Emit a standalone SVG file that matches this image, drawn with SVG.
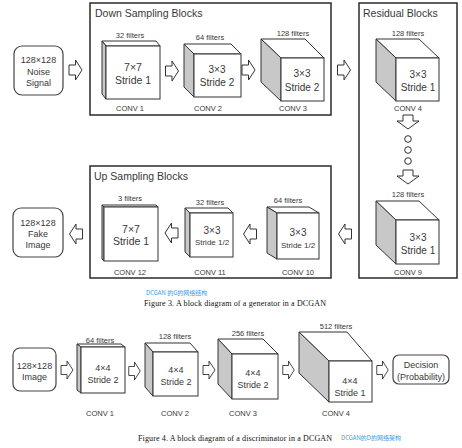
<svg xmlns="http://www.w3.org/2000/svg" width="462" height="448" viewBox="0 0 462 448">
<defs>
<style>
.bg{fill:#ffffff}
.blk{fill:none;stroke:#2a2a2a;stroke-width:1.5}
.io{fill:#ffffff;stroke:#444;stroke-width:1.2}
.fr{fill:#ffffff;stroke:#333;stroke-width:1}
.sd{fill:#c8c8c8;stroke:#333;stroke-width:1}
.tp{fill:#ffffff;stroke:#333;stroke-width:1}
.arr{fill:#ffffff;stroke:#333;stroke-width:1}
text{font-family:"Liberation Sans","Noto Sans",Arial,sans-serif;fill:#383838}
.ttl{font-size:10.5px}
.io-t{font-size:9px;text-anchor:middle}
.fl{font-size:7.5px;text-anchor:middle}
.cv{font-size:7.5px;text-anchor:middle}
.st{font-size:10px;text-anchor:middle}
.lg{font-size:10.5px;text-anchor:middle}
.sm{font-size:8px;text-anchor:middle}
.ds{font-size:9px;text-anchor:middle}
.cap{font-family:"Liberation Serif","Times New Roman",serif;font-size:8px;fill:#111;text-anchor:middle}
.cn{font-family:"Noto Sans CJK SC","Liberation Sans",sans-serif;font-size:6px;fill:#3d9be0}
</style>
<path id="ra" d="M-6.5,-5 H0 V-10 L6.5,0 L0,10 V5 H-6.5 Z"/>
<path id="da" d="M-5,-7 H5 V-1 H11 L0,7 L-11,-1 H-5 Z"/>
</defs>
<rect class="bg" x="0" y="0" width="462" height="448"/>

<!-- Generator -->
<g id="down-block">
<rect class="blk" x="90" y="3" width="241" height="112"/>
<text class="ttl" x="95" y="17">Down Sampling Blocks</text>
</g>
<g id="residual-block">
<rect class="blk" x="359" y="3" width="98" height="275"/>
<text class="ttl" x="363" y="17">Residual Blocks</text>
</g>
<g id="up-block">
<rect class="blk" x="90" y="166" width="241" height="112"/>
<text class="ttl" x="94" y="180">Up Sampling Blocks</text>
</g>

<g id="noise">
<rect class="io" x="14" y="46" width="49" height="49" rx="8"/>
<text class="io-t" x="38.5" y="63">128×128</text>
<text class="io-t" x="38.5" y="75">Noise</text>
<text class="io-t" x="38.5" y="86">Signal</text>
</g>

<g id="conv1">
<polygon class="tp" points="102,41 156,41 160,46 106,46"/>
<polygon class="sd" points="102,41 106,46 106,99 102,94"/>
<rect class="fr" x="106" y="46" width="54" height="53"/>
<text class="fl" x="130" y="38">32 filters</text>
<text class="lg" x="133" y="71">7×7</text>
<text class="lg" x="133" y="84">Stride 1</text>
<text class="cv" x="130" y="111">CONV 1</text>
</g>

<g id="conv2">
<polygon class="tp" points="184,44 231,44 241,54 194,54"/>
<polygon class="sd" points="184,44 194,54 194,97 184,87"/>
<rect class="fr" x="194" y="54" width="47" height="43"/>
<text class="fl" x="210" y="40">64 filters</text>
<text class="st" x="217" y="73">3×3</text>
<text class="st" x="217" y="86">Stride 2</text>
<text class="cv" x="208" y="111">CONV 2</text>
</g>

<g id="conv3">
<polygon class="tp" points="261,39 305,39 324,58 281,58"/>
<polygon class="sd" points="261,39 281,58 281,101 261,82"/>
<rect class="fr" x="281" y="58" width="43" height="43"/>
<text class="fl" x="293" y="36">128 filters</text>
<text class="st" x="302" y="77">3×3</text>
<text class="st" x="302" y="91">Stride 2</text>
<text class="cv" x="293" y="111">CONV 3</text>
</g>

<g id="conv4">
<polygon class="tp" points="376,39 419,39 439,58 396,58"/>
<polygon class="sd" points="376,39 396,58 396,101 376,82"/>
<rect class="fr" x="396" y="58" width="43" height="43"/>
<text class="fl" x="408" y="36">128 filters</text>
<text class="st" x="418" y="78">3×3</text>
<text class="st" x="418" y="91">Stride 1</text>
<text class="cv" x="408" y="111">CONV 4</text>
</g>

<g id="ellipsis">
<circle cx="408" cy="139" r="3.3" fill="#fff" stroke="#333" stroke-width="1"/>
<circle cx="408" cy="150" r="3.3" fill="#fff" stroke="#333" stroke-width="1"/>
<circle cx="408" cy="161" r="3.3" fill="#fff" stroke="#333" stroke-width="1"/>
</g>

<g id="conv9">
<polygon class="tp" points="376,201 419,201 439,220 396,220"/>
<polygon class="sd" points="376,201 396,220 396,264 376,245"/>
<rect class="fr" x="396" y="220" width="43" height="44"/>
<text class="fl" x="408" y="197">128 filters</text>
<text class="st" x="418" y="241">3×3</text>
<text class="st" x="418" y="254">Stride 1</text>
<text class="cv" x="408" y="275">CONV 9</text>
</g>

<g id="conv10">
<polygon class="tp" points="267,207 309,207 319,213 277,213"/>
<polygon class="sd" points="267,207 277,213 277,259 267,253"/>
<rect class="fr" x="277" y="213" width="42" height="46"/>
<text class="fl" x="288" y="203">64 filters</text>
<text class="st" x="298" y="236">3×3</text>
<text class="sm" x="298" y="248">Stride 1/2</text>
<text class="cv" x="298" y="275">CONV 10</text>
</g>

<g id="conv11">
<polygon class="tp" points="185,208 228,208 233,213 190,213"/>
<polygon class="sd" points="185,208 190,213 190,257 185,252"/>
<rect class="fr" x="190" y="213" width="43" height="44"/>
<text class="fl" x="210" y="205">32 filters</text>
<text class="st" x="212" y="234">3×3</text>
<text class="sm" x="212" y="245">Stride 1/2</text>
<text class="cv" x="210" y="275">CONV 11</text>
</g>

<g id="conv12">
<polygon class="tp" points="102,205 156,205 158,207 104,207"/>
<polygon class="sd" points="102,205 104,207 104,261 102,259"/>
<rect class="fr" x="104" y="207" width="54" height="54"/>
<text class="fl" x="130" y="201">3 filters</text>
<text class="lg" x="131" y="233">7×7</text>
<text class="lg" x="131" y="245">Stride 1</text>
<text class="cv" x="130" y="275">CONV 12</text>
</g>

<g id="fake">
<rect class="io" x="13" y="208" width="50" height="49" rx="8"/>
<text class="io-t" x="38" y="226">128×128</text>
<text class="io-t" x="38" y="237">Fake</text>
<text class="io-t" x="38" y="248">Image</text>
</g>

<g id="caption3">
<text class="cn" x="146" y="295">DCGAN 的G的网络结构</text>
<text class="cap" x="235" y="306" textLength="182">Figure 3. A block diagram of a generator in a DCGAN</text>
</g>

<!-- Discriminator -->
<g id="d-image">
<rect class="io" x="13" y="348" width="43" height="43" rx="7"/>
<text class="io-t" x="34.5" y="369">128×128</text>
<text class="io-t" x="34.5" y="380">Image</text>
</g>

<g id="d-conv1">
<polygon class="tp" points="77,344 121,344 125,347 81,347"/>
<polygon class="sd" points="77,344 81,347 81,393 77,390"/>
<rect class="fr" x="81" y="347" width="44" height="46"/>
<text class="fl" x="100" y="343">64 filters</text>
<text class="ds" x="103" y="371">4×4</text>
<text class="ds" x="103" y="383">Stride 2</text>
<text class="cv" x="100" y="416">CONV 1</text>
</g>

<g id="d-conv2">
<polygon class="tp" points="145,343 190,343 198,352 153,352"/>
<polygon class="sd" points="145,343 153,352 153,396 145,387"/>
<rect class="fr" x="153" y="352" width="45" height="44"/>
<text class="fl" x="175" y="339">128 filters</text>
<text class="ds" x="176" y="373">4×4</text>
<text class="ds" x="176" y="385">Stride 2</text>
<text class="cv" x="175" y="416">CONV 2</text>
</g>

<g id="d-conv3">
<polygon class="tp" points="218,339 263,339 278,354 232,354"/>
<polygon class="sd" points="218,339 232,354 232,399 218,384"/>
<rect class="fr" x="232" y="354" width="46" height="45"/>
<text class="fl" x="248" y="336">256 filters</text>
<text class="ds" x="253" y="376">4×4</text>
<text class="ds" x="253" y="388">Stride 2</text>
<text class="cv" x="243" y="416">CONV 3</text>
</g>

<g id="d-conv4">
<polygon class="tp" points="299,332 347,332 372,361 329,361"/>
<polygon class="sd" points="299,332 329,361 329,402 299,373"/>
<rect class="fr" x="329" y="361" width="43" height="41"/>
<text class="fl" x="336" y="329">512 filters</text>
<text class="ds" x="350" y="384">4×4</text>
<text class="ds" x="350" y="396">Stride 1</text>
<text class="cv" x="336" y="416">CONV 4</text>
</g>

<g id="decision">
<rect class="io" x="393" y="355" width="56" height="29" rx="6"/>
<text class="ds" x="421" y="368">Decision</text>
<text class="ds" x="421" y="380">(Probability)</text>
</g>

<g id="caption4">
<text class="cap" x="235" y="441" textLength="194">Figure 4. A block diagram of a discriminator in a DCGAN</text>
<text class="cn" x="341" y="440">DCGAN的D的网络架构</text>
</g>

<g id="connectors">
<use href="#ra" class="arr" transform="translate(75.5,70)"/>
<use href="#ra" class="arr" transform="translate(172,71)"/>
<use href="#ra" class="arr" transform="translate(248.5,70)"/>
<use href="#ra" class="arr" transform="translate(344,70)"/>
<use href="#da" class="arr" transform="translate(408,122)"/>
<use href="#da" class="arr" transform="translate(408,177)"/>
<use href="#ra" class="arr" transform="translate(345,234) rotate(180)"/>
<use href="#ra" class="arr" transform="translate(250,234) rotate(180)"/>
<use href="#ra" class="arr" transform="translate(171.5,233) rotate(180)"/>
<use href="#ra" class="arr" transform="translate(76,234) rotate(180)"/>
<use href="#ra" class="arr" transform="translate(67,370) scale(0.92,0.9)"/>
<use href="#ra" class="arr" transform="translate(134.5,371) scale(0.88,0.9)"/>
<use href="#ra" class="arr" transform="translate(209,370) scale(0.92,0.9)"/>
<use href="#ra" class="arr" transform="translate(288.5,370) scale(0.88,0.9)"/>
<use href="#ra" class="arr" transform="translate(382.5,370) scale(0.88,0.9)"/>
</g>
</svg>
